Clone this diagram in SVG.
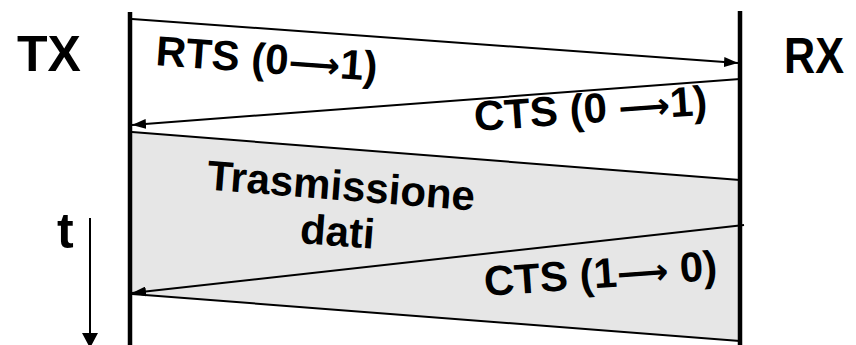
<svg xmlns="http://www.w3.org/2000/svg" width="856" height="345" viewBox="0 0 856 345">
<style>
.lbl{font-family:"Liberation Sans",Arial,"DejaVu Sans",sans-serif;font-weight:bold;fill:#000}
.big{font-size:50px}
.mid{font-size:42px}
.arr{font-family:"DejaVu Sans","Liberation Sans",sans-serif;font-weight:bold;font-size:36px}
.msg{stroke:#000;stroke-width:2;fill:none}
.life{stroke:#000;stroke-width:4.5;fill:none}
</style>
<defs>
<marker id="ah" viewBox="0 0 14 10" refX="14" refY="5" markerWidth="14" markerHeight="10" markerUnits="userSpaceOnUse" orient="auto">
<path d="M0,0 L14,5 L0,10 Z" fill="#000"/>
</marker>
</defs>
<rect width="856" height="345" fill="#fff"/>
<g id="data-band">
<polygon points="132,132 740,180 740,341 132,294" fill="#e6e6e6"/>
</g>
<g id="TX">
<line class="life" x1="130" y1="12" x2="130" y2="345"/>
<text class="lbl big" x="17" y="71">TX</text>
</g>
<g id="RX">
<line class="life" x1="740" y1="11" x2="740" y2="345"/>
<text class="lbl big" x="784" y="73" textLength="60" lengthAdjust="spacingAndGlyphs">RX</text>
</g>
<g id="time">
<line x1="90" y1="218" x2="90" y2="336" stroke="#000" stroke-width="2"/>
<polygon points="82,333 98,333 90,348" fill="#000"/>
<text class="lbl big" x="57" y="248">t</text>
</g>
<g id="connectors">
<line class="msg" x1="132" y1="19" x2="738" y2="63" marker-end="url(#ah)"/>
<line class="msg" x1="740" y1="79" x2="132" y2="125" marker-end="url(#ah)"/>
<line class="msg" x1="132" y1="132" x2="740" y2="180"/>
<line class="msg" x1="744" y1="225" x2="132" y2="293" marker-end="url(#ah)"/>
<line class="msg" x1="132" y1="294" x2="740" y2="341"/>
</g>
<g id="labels">
<text class="lbl mid" x="155" y="65" transform="rotate(4.15 155 65)">RTS (0<tspan class="arr">⟶</tspan>1)</text>
<text class="lbl mid" x="475" y="131" transform="rotate(-4 475 131)">CTS (0 <tspan class="arr">⟶</tspan>1)</text>
<text class="lbl mid" x="485" y="296" transform="rotate(-4 485 296)">CTS (1<tspan class="arr">⟶</tspan> 0)</text>
<text class="lbl mid" text-anchor="middle" transform="translate(340 200) rotate(4.5)"><tspan x="0" y="0">Trasmissione</tspan><tspan x="0" y="46">dati</tspan></text>
</g>
</svg>
